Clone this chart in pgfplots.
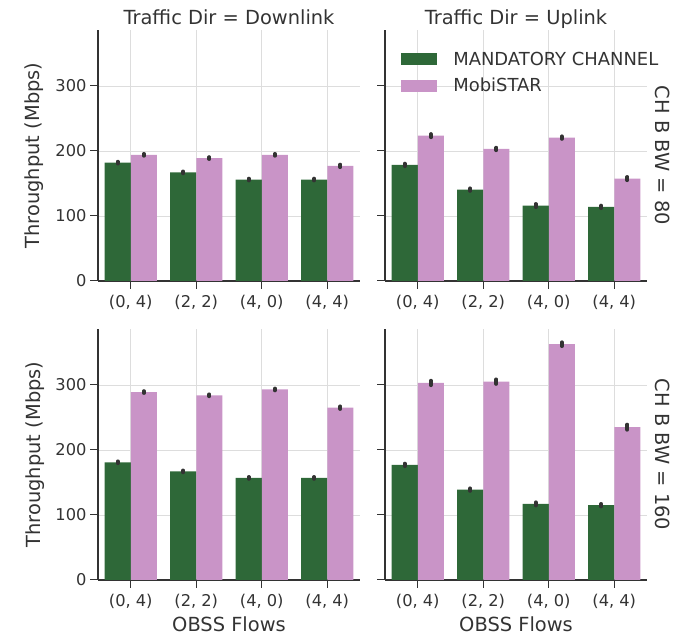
\documentclass[border=0pt]{standalone}
\usepackage{pgfplots}
\pgfplotsset{compat=1.18}
\usepackage{fontspec}
\setmainfont{DejaVu Sans}
\definecolor{mgreen}{HTML}{2E6838}
\definecolor{mpink}{HTML}{C994C7}
\definecolor{txt}{HTML}{333333}
\definecolor{gridc}{HTML}{DDDDDD}
\newcommand{\lblfont}{\fontsize{19.5}{23}\selectfont}
\newcommand{\tickfont}{\fontsize{16.3}{19}\selectfont}
\newcommand{\legfont}{\fontsize{18}{21}\selectfont}
\pgfplotsset{
  panel/.style={
    scale only axis, width=262bp, height=251bp,
    xmin=-0.5, xmax=3.5, ymin=0, ymax=386,
    axis x line*=bottom, axis y line*=left,
    xtick={0,1,2,3}, xticklabels={{(0, 4)},{(2, 2)},{(4, 0)},{(4, 4)}},
    ytick={0,100,200,300},
    xmajorgrids, ymajorgrids,
    major grid style={gridc, line width=0.8bp},
    tick align=outside, major tick length=8bp,
    tick style={txt, line width=1bp},
    axis line style={txt, line width=1.2bp},
    ticklabel style={font=\tickfont, text=txt},
    xticklabel style={yshift=-3bp},
    /pgf/number format/assume math mode=true,
    clip=false,
  },
  gbar/.style={ybar, bar width=0.4, bar shift=0pt, fill=mgreen, draw=none, forget plot,
    error bars/.cd, y dir=both, y explicit, error mark=none,
    error bar style={line width=3.8bp, txt, line cap=round}},
  pbar/.style={ybar, bar width=0.4, bar shift=0pt, fill=mpink, draw=none, forget plot,
    error bars/.cd, y dir=both, y explicit, error mark=none,
    error bar style={line width=3.8bp, txt, line cap=round}},
}
\begin{document}
\begin{tikzpicture}[x=1bp,y=1bp]
\path (0,0) rectangle (683,637);
% top-left: Downlink, 80
\begin{axis}[panel, at={(98bp,356bp)}, anchor=south west]
\addplot[gbar] coordinates {(-0.2,182) +- (0,1.5) (0.8,167) +- (0,1.5) (1.8,156) +- (0,1.5) (2.8,156) +- (0,1.5)};
\addplot[pbar] coordinates {(0.2,194) +- (0,1.5) (1.2,189) +- (0,1.5) (2.2,194) +- (0,1.5) (3.2,177) +- (0,2)};
\node[anchor=base, inner sep=0, font=\lblfont, text=txt] at (rel axis cs:0.5,1) [yshift=5bp] {Traffic Dir = Downlink};
\node[anchor=base, rotate=90, inner sep=0, font=\lblfont, text=txt] at ([xshift=-58bp]rel axis cs:0,0.5) {Throughput (Mbps)};
\end{axis}
% top-right: Uplink, 80
\begin{axis}[panel, at={(385bp,356bp)}, anchor=south west, yticklabels={}]
\addplot[gbar] coordinates {(-0.2,178.5) +- (0,2) (0.8,140.5) +- (0,2) (1.8,116) +- (0,2.5) (2.8,114) +- (0,2)};
\addplot[pbar] coordinates {(0.2,223.5) +- (0,2.5) (1.2,203) +- (0,2) (2.2,220.5) +- (0,2) (3.2,157.5) +- (0,2.5)};
\node[anchor=base, inner sep=0, font=\lblfont, text=txt] at (rel axis cs:0.5,1) [yshift=5bp] {Traffic Dir = Uplink};
\node[anchor=base, rotate=-90, inner sep=0, font=\lblfont, text=txt] at ([xshift=8bp]rel axis cs:1,0.5) {CH B BW = 80};
\fill[mgreen] (rel axis cs:0.061,0.859) rectangle (rel axis cs:0.199,0.907);
\fill[mpink] (rel axis cs:0.061,0.754) rectangle (rel axis cs:0.199,0.802);
\node[anchor=base west, inner sep=0, font=\legfont, text=txt] at (rel axis cs:0.26,0.859) {MANDATORY CHANNEL};
\node[anchor=base west, inner sep=0, font=\legfont, text=txt] at (rel axis cs:0.26,0.754) {MobiSTAR};
\end{axis}
% bottom-left: Downlink, 160
\begin{axis}[panel, at={(98bp,57bp)}, anchor=south west]
\addplot[gbar] coordinates {(-0.2,181) +- (0,1.5) (0.8,167) +- (0,1.5) (1.8,157) +- (0,1.5) (2.8,157) +- (0,1.5)};
\addplot[pbar] coordinates {(0.2,289) +- (0,1.5) (1.2,284) +- (0,1.5) (2.2,293) +- (0,1.5) (3.2,265) +- (0,2)};
\node[anchor=base, rotate=90, inner sep=0, font=\lblfont, text=txt] at ([xshift=-58bp]rel axis cs:0,0.5) {Throughput (Mbps)};
\node[anchor=base, inner sep=0, font=\lblfont, text=txt] at (rel axis cs:0.5,0) [yshift=-51bp] {OBSS Flows};
\end{axis}
% bottom-right: Uplink, 160
\begin{axis}[panel, at={(385bp,57bp)}, anchor=south west, yticklabels={}]
\addplot[gbar] coordinates {(-0.2,177) +- (0,2) (0.8,139) +- (0,2) (1.8,117) +- (0,2.5) (2.8,115) +- (0,2)};
\addplot[pbar] coordinates {(0.2,303) +- (0,3.5) (1.2,305) +- (0,3.5) (2.2,362.6) +- (0,3) (3.2,235) +- (0,4)};
\node[anchor=base, rotate=-90, inner sep=0, font=\lblfont, text=txt] at ([xshift=8bp]rel axis cs:1,0.5) {CH B BW = 160};
\node[anchor=base, inner sep=0, font=\lblfont, text=txt] at (rel axis cs:0.5,0) [yshift=-51bp] {OBSS Flows};
\end{axis}
\end{tikzpicture}
\end{document}
